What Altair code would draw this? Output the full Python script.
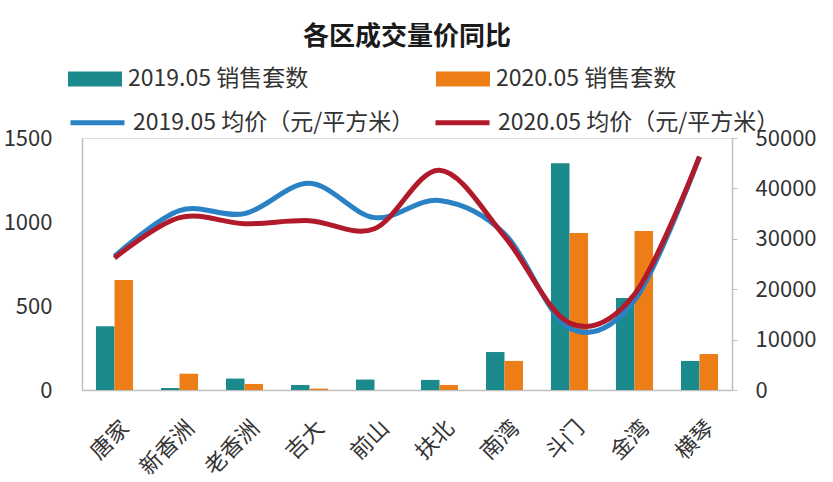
import altair as alt
import pandas as pd

districts = ["唐家", "新香洲", "老香洲", "吉大", "前山", "扶北", "南湾", "斗门", "金湾", "横琴"]
bar_series = ["2019.05 销售套数", "2020.05 销售套数"]
line_series = ["2019.05 均价（元/平方米）", "2020.05 均价（元/平方米）"]
sales_2019 = [380, 12, 68, 30, 62, 60, 226, 1350, 547, 173]
sales_2020 = [655, 97, 36, 8, 0, 30, 173, 934, 946, 214]
price_2019 = [26500, 35600, 35000, 41000, 34200, 37600, 31000, 12300, 17800, 46300]
price_2020 = [26200, 34200, 33000, 33600, 32000, 43600, 30500, 13300, 19000, 46300]

FONT = "Noto Sans CJK SC"
TEAL = "#1b8a8c"
ORANGE = "#ec7d17"
BLUE = "#2a82c4"
RED = "#b01a2a"
TXT = "#333333"

bars_df = pd.DataFrame({
    "区": districts * 2,
    "系列": [bar_series[0]] * len(districts) + [bar_series[1]] * len(districts),
    "套数": sales_2019 + sales_2020,
})
lines_df = pd.DataFrame({
    "区": districts * 2,
    "系列": [line_series[0]] * len(districts) + [line_series[1]] * len(districts),
    "均价": price_2019 + price_2020,
})

x_enc = alt.X(
    "区:N", sort=districts, title=None,
    scale=alt.Scale(paddingInner=0.43, paddingOuter=0.215),
    axis=alt.Axis(labelAngle=-45, labelFontSize=22, labelColor=TXT, labelFont=FONT,
                  ticks=False, domainColor="#bfbfbf", domainWidth=1.5, labelPadding=27,
                  labelOffset=4),
)

bars = alt.Chart(bars_df).mark_bar().encode(
    x=x_enc,
    xOffset=alt.XOffset("系列:N", sort=bar_series),
    y=alt.Y("套数:Q", title=None,
            scale=alt.Scale(domain=[0, 1500]),
            axis=alt.Axis(values=[0, 500, 1000, 1500], format="d", grid=False, ticks=False,
                          domainColor="#bfbfbf", domainWidth=1.5, labelFontSize=22,
                          labelColor=TXT, labelFont=FONT, labelPadding=30)),
    color=alt.Color("系列:N", sort=bar_series,
                    scale=alt.Scale(domain=bar_series, range=[TEAL, ORANGE]),
                    legend=alt.Legend(title=None, orient="none", legendX=-14, legendY=-86,
                                      direction="horizontal", columns=2, columnPadding=127,
                                      symbolType="M-1,-0.28L1,-0.28L1,0.28L-1,0.28Z",
                                      symbolSize=2916, symbolStrokeWidth=0,
                                      labelFontSize=23, labelFont=FONT, labelColor=TXT,
                                      labelLimit=500, labelOffset=6)),
)

lines = alt.Chart(lines_df).mark_line(interpolate="cardinal", strokeWidth=5).encode(
    x=alt.X("区:N", sort=districts),
    y=alt.Y("均价:Q", title=None,
            scale=alt.Scale(domain=[0, 50000]),
            axis=alt.Axis(orient="right", values=[0, 10000, 20000, 30000, 40000, 50000],
                          format="d", grid=False, ticks=True, tickSize=5, tickColor="#bfbfbf",
                          domainColor="#bfbfbf", domainWidth=1.5, labelFontSize=22,
                          labelColor=TXT, labelFont=FONT, labelPadding=18)),
    color=alt.Color("系列:N", sort=line_series,
                    scale=alt.Scale(domain=line_series, range=[BLUE, RED]),
                    legend=alt.Legend(title=None, orient="none", legendX=-14, legendY=-45,
                                      direction="horizontal", columns=2, columnPadding=10,
                                      symbolType="stroke", symbolSize=2916,
                                      symbolStrokeWidth=5,
                                      labelFontSize=23, labelFont=FONT, labelColor=TXT,
                                      labelLimit=500, labelOffset=6)),
)

chart = alt.layer(bars, lines).resolve_scale(y="independent", color="independent").properties(
    width=650, height=252,
    autosize="none",
    padding={"left": 82, "top": 138, "right": 101, "bottom": 92},
    title=alt.TitleParams("各区成交量价同比", anchor="middle", frame="group", fontSize=26,
                          fontWeight="bold", font=FONT, color="#1a1a1a", offset=2),
).configure_view(stroke=None).configure(background="white")

chart.save("out.html", embed_options={"renderer": "svg", "actions": False})
